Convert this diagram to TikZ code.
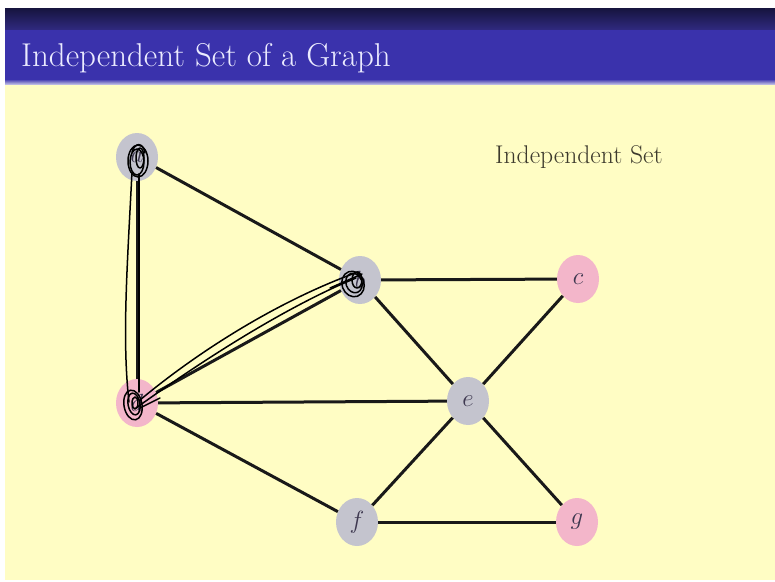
\documentclass[tikz,border=0pt]{standalone}
\usepackage{tikz}
\usetikzlibrary{shapes.geometric}

\definecolor{slideyellow}{RGB}{255,253,196}
\definecolor{titleblue}{RGB}{58,50,172}
\definecolor{topdark}{RGB}{22,20,62}
\definecolor{topmid}{RGB}{48,42,128}
\definecolor{vgray}{RGB}{196,196,206}
\definecolor{vpink}{RGB}{243,182,202}
\definecolor{labelink}{RGB}{62,56,80}

\tikzset{
  vert/.style={ellipse, minimum width=42pt, minimum height=48pt, inner sep=0pt,
               font=\fontsize{24}{24}\selectfont, text=labelink},
  grayv/.style={vert, fill=vgray},
  pinkv/.style={vert, fill=vpink},
  edge/.style={line width=3pt, black!90},
  pen/.style={line width=1.5pt, black, line cap=round, line join=round}
}

\begin{document}
\begin{tikzpicture}[x=1pt, y=-1pt]
  \useasboundingbox (0,0) rectangle (775,581);
  % slide background
  \fill[slideyellow] (5,82) rectangle (775,580);
  \shade[top color=topdark, bottom color=topmid] (5,8) rectangle (775,30);
  \fill[titleblue] (5,30) rectangle (775,82);
  \shade[top color=titleblue, bottom color=titleblue!35!white] (5,79) rectangle (775,84);
  \node[anchor=base west, text=white!92!blue, inner sep=0pt,
        font=\fontsize{33}{34}\selectfont] (title) at (21,66) {Independent Set of a Graph};

  \node[font=\fontsize{25.6}{26}\selectfont, text=black!75!olive, anchor=base west, inner sep=0pt]
       (legend) at (495,163) {Independent Set};

  % vertices
  \node[grayv] (a) at (137,157) {$a$};
  \node[grayv] (b) at (360,280) {$b$};
  \node[pinkv] (c) at (578,279) {$c$};
  \node[pinkv] (d) at (137,403) {$d$};
  \node[grayv] (e) at (468,401) {$e$};
  \node[grayv] (f) at (357,522) {$f$};
  \node[pinkv] (g) at (577,522) {$g$};

  % edges
  \draw[edge] (a) -- (b);
  \draw[edge] (a) -- (d);
  \draw[edge] (b) -- (c);
  \draw[edge] (b) -- (e);
  \draw[edge] (b) -- (d);
  \draw[edge] (d) -- (e);
  \draw[edge] (d) -- (f);
  \draw[edge] (c) -- (e);
  \draw[edge] (e) -- (f);
  \draw[edge] (e) -- (g);
  \draw[edge] (f) -- (g);

  % hand-drawn marks
  \draw[pen] (138,161) ellipse (10 and 16);
  \draw[pen] (137,162) ellipse (7 and 13);
  \draw[pen] (140,158) ellipse (4 and 10);
  \draw[pen] (132,152) .. controls (135,142) and (143,142) .. (145,153);
  \draw[pen] (132,172) .. controls (127,270) and (122,340) .. (129,402);
  \draw[pen] (139,174) -- (139,392);

  \draw[pen, rotate around={20:(353,284)}] (353,284) ellipse (11 and 13);
  \draw[pen, rotate around={20:(354,283)}] (354,283) ellipse (8 and 10);
  \draw[pen] (357,280) ellipse (5 and 8);
  \draw[pen] (330,288) -- (362,274);
  \draw[pen] (140,400) .. controls (200,350) and (280,300) .. (358,272);
  \draw[pen] (136,408) .. controls (210,355) and (290,305) .. (356,278);

  \draw[pen, rotate around={10:(133,405)}] (133,405) ellipse (9 and 15);
  \draw[pen, rotate around={10:(134,404)}] (134,404) ellipse (6 and 11);
  \draw[pen] (135,403) ellipse (3 and 6);
  \draw[pen] (140,408) -- (160,398);
\end{tikzpicture}
\end{document}
